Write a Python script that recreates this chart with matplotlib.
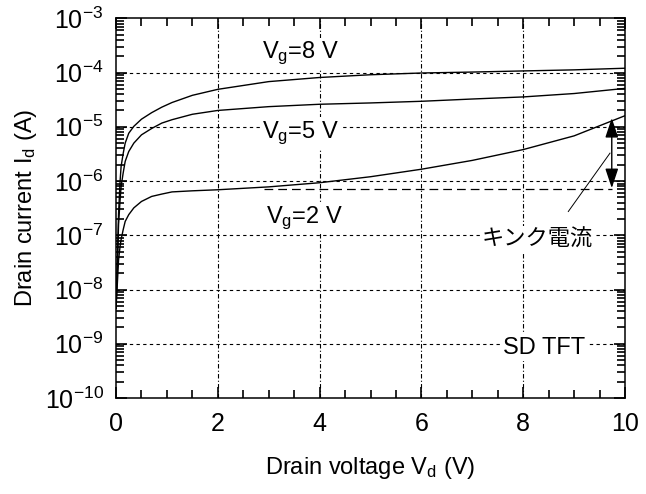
import numpy as np
import matplotlib
matplotlib.use("Agg")
from matplotlib import pyplot as plt
from matplotlib.ticker import MultipleLocator, LogLocator, NullFormatter, FixedLocator

plt.rcParams['font.family'] = ['Liberation Sans', 'Noto Sans CJK JP', 'DejaVu Sans']
plt.rcParams['mathtext.fontset'] = 'custom'
plt.rcParams['mathtext.rm'] = 'Liberation Sans'
plt.rcParams['mathtext.it'] = 'Liberation Sans:italic'

# drain voltage (V)
vd = [0, 0.02, 0.05, 0.08, 0.1, 0.14, 0.18, 0.25, 0.35, 0.5, 0.7, 0.9, 1.1, 1.5,
      2, 3, 4, 5, 6, 7, 8, 9, 10]
# drain current (A)
id_vg8 = [4.5e-9, 2e-8, 2.5e-7, 1.0e-6, 1.86e-6, 3.2e-6, 5.0e-6, 7.6e-6, 1.02e-5, 1.38e-5,
          1.82e-5, 2.3e-5, 2.8e-5, 3.8e-5, 4.9e-5, 6.8e-5, 8.1e-5, 9.1e-5, 9.8e-5,
          1.02e-4, 1.07e-4, 1.12e-4, 1.2e-4]
id_vg5 = [4.5e-9, 1.6e-8, 1.6e-7, 4.5e-7, 7.9e-7, 1.4e-6, 2.3e-6, 3.5e-6, 5.0e-6, 7.1e-6,
          9.3e-6, 1.17e-5, 1.35e-5, 1.7e-5, 2.0e-5, 2.35e-5, 2.6e-5, 2.75e-5, 2.95e-5,
          3.25e-5, 3.55e-5, 4.1e-5, 5.1e-5]
id_vg2 = [4.5e-9, 1.0e-8, 3.5e-8, 6.3e-8, 8.3e-8, 1.26e-7, 1.8e-7, 2.4e-7, 3.2e-7, 4.2e-7,
          5.2e-7, 5.75e-7, 6.3e-7, 6.6e-7, 6.9e-7, 7.8e-7, 9.3e-7, 1.2e-6, 1.65e-6,
          2.4e-6, 3.8e-6, 6.8e-6, 1.6e-5]

# kink current reference level and arrow
kink_level = 7e-7
kink_vd = [2.9, 9.75]
arrow_vd = 9.74
arrow_top = 1.45e-5
arrow_bottom = 7.4e-7

ytick_exp = [-3, -4, -5, -6, -7, -8, -9, -10]
xticks = [0, 2, 4, 6, 8, 10]

fig = plt.figure(figsize=(6.46, 4.94), dpi=100)
ax = fig.add_axes([0.1796, 0.1943, 0.7879, 0.7687])

ax.set_yscale('log')
ax.set_xlim(0, 10)
ax.set_ylim(1e-10, 1e-3)

for y in (id_vg8, id_vg5, id_vg2):
    ax.plot(vd, y, color='black', lw=1.0, zorder=3)

ax.plot(kink_vd, [kink_level, kink_level], color='black', lw=0.9,
        linestyle=(0, (7, 4)), zorder=3)

ax.annotate('', xy=(arrow_vd, arrow_top), xytext=(arrow_vd, arrow_bottom),
            arrowprops=dict(arrowstyle='<|-|>,head_length=1.2,head_width=0.4',
                            color='black', lw=1.0, shrinkA=0, shrinkB=0,
                            mutation_scale=10), zorder=4)
ax.plot([9.705, 8.886], [10 ** -5.486, 10 ** -6.562], color='black', lw=0.7, zorder=3)

# grid
for e in ytick_exp[1:-1]:
    ax.axhline(10.0 ** e, color='black', lw=0.8, linestyle=(0, (3, 3)), zorder=1)
for x in xticks[1:-1]:
    ax.axvline(x, color='black', lw=0.8, linestyle=(0, (4, 2, 1, 2)), zorder=1)

box = dict(facecolor='white', edgecolor='none', pad=1.5)
ax.text(3.62, 10 ** -3.74, r'V$_\mathrm{g}$=8 V', fontsize=17, ha='center', va='baseline', bbox=box, zorder=5)
ax.text(3.62, 10 ** -5.2, r'V$_\mathrm{g}$=5 V', fontsize=17, ha='center', va='baseline', bbox=box, zorder=5)
ax.text(3.71, 10 ** -6.775, r'V$_\mathrm{g}$=2 V', fontsize=17, ha='center', va='baseline', bbox=box, zorder=5)
ax.text(8.28, 10 ** -7.07, 'キンク電流', fontsize=16, ha='center', va='center',
        family=['Noto Sans CJK JP'], bbox=box, zorder=5)
ax.text(8.4, 10 ** -9.07, 'SD TFT', fontsize=17, ha='center', va='center', bbox=box, zorder=5)

ax.xaxis.set_major_locator(FixedLocator(xticks))
ax.xaxis.set_minor_locator(MultipleLocator(0.5))
ax.yaxis.set_major_locator(FixedLocator([10.0 ** e for e in ytick_exp]))
ax.set_yticklabels([r'$10^{%d}$' % e for e in ytick_exp])
ax.yaxis.set_minor_locator(LogLocator(base=10, subs=np.arange(2, 10), numticks=20))
ax.yaxis.set_minor_formatter(NullFormatter())
ax.tick_params(which='both', direction='in', top=True, right=True, width=1.2, labelsize=18)
ax.tick_params(which='major', length=8)
ax.tick_params(which='minor', length=6)
ax.tick_params(axis='x', which='major', pad=10)
ax.tick_params(axis='y', which='major', pad=9)

for s in ax.spines.values():
    s.set_linewidth(1.1)

ax.set_xlabel(r'Drain voltage V$_\mathrm{d}$ (V)', fontsize=17, labelpad=14)
ax.set_ylabel(r'Drain current I$_\mathrm{d}$ (A)', fontsize=17, labelpad=4)

fig.savefig('out.png', dpi=100)
